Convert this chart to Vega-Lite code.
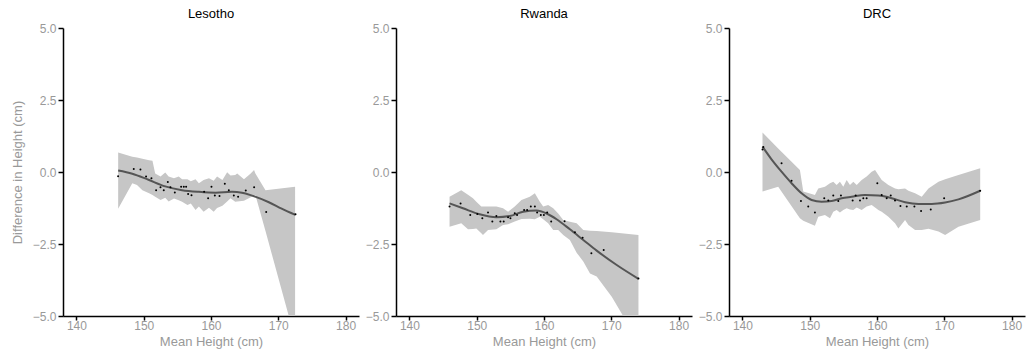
{
  "$schema": "https://vega.github.io/schema/vega-lite/v6.json",
  "padding": {"left": 11, "top": 8, "right": 5, "bottom": 3},
  "bounds": "flush",
  "spacing": 37,
  "config": {
    "view": {"stroke": null},
    "font": "Liberation Sans",
    "axis": {"domainColor": "black", "domainWidth": 1.5, "tickColor": "black", "tickWidth": 1.5, "tickSize": 5, "labelColor": "#999999", "labelFontSize": 12, "titleColor": "#999999", "titleFontSize": 13, "titleFontWeight": "normal", "grid": false, "labelPadding": 2},
    "axisX": {"tickSize": 4, "labelPadding": 0},
    "axisY": {"titlePadding": 8},
    "title": {"fontSize": 13, "fontWeight": "normal", "color": "black", "anchor": "middle", "offset": 1}
  },
  "datasets": {
    "band": [
      {"country": "Lesotho", "x": 146.2, "hi": 0.68, "lo": -1.28},
      {"country": "Lesotho", "x": 148.3, "hi": 0.53, "lo": -0.39},
      {"country": "Lesotho", "x": 149.0, "hi": 0.50, "lo": -0.45},
      {"country": "Lesotho", "x": 149.8, "hi": 0.46, "lo": -0.63},
      {"country": "Lesotho", "x": 150.8, "hi": 0.41, "lo": -0.74},
      {"country": "Lesotho", "x": 151.3, "hi": 0.39, "lo": -0.80},
      {"country": "Lesotho", "x": 151.7, "hi": -0.05, "lo": -0.86},
      {"country": "Lesotho", "x": 152.5, "hi": -0.16, "lo": -0.97},
      {"country": "Lesotho", "x": 153.2, "hi": -0.02, "lo": -0.89},
      {"country": "Lesotho", "x": 153.7, "hi": -0.16, "lo": -1.02},
      {"country": "Lesotho", "x": 154.5, "hi": -0.22, "lo": -0.92},
      {"country": "Lesotho", "x": 155.2, "hi": -0.16, "lo": -0.98},
      {"country": "Lesotho", "x": 155.7, "hi": -0.25, "lo": -1.03},
      {"country": "Lesotho", "x": 156.5, "hi": -0.25, "lo": -1.15},
      {"country": "Lesotho", "x": 157.0, "hi": -0.32, "lo": -1.09},
      {"country": "Lesotho", "x": 157.7, "hi": -0.25, "lo": -1.32},
      {"country": "Lesotho", "x": 158.2, "hi": -0.39, "lo": -1.20},
      {"country": "Lesotho", "x": 158.9, "hi": -0.28, "lo": -1.38},
      {"country": "Lesotho", "x": 159.7, "hi": -0.22, "lo": -1.24},
      {"country": "Lesotho", "x": 160.4, "hi": -0.30, "lo": -1.38},
      {"country": "Lesotho", "x": 160.9, "hi": -0.16, "lo": -1.25},
      {"country": "Lesotho", "x": 161.7, "hi": -0.28, "lo": -1.17},
      {"country": "Lesotho", "x": 162.4, "hi": -0.01, "lo": -1.02},
      {"country": "Lesotho", "x": 162.9, "hi": -0.12, "lo": -0.91},
      {"country": "Lesotho", "x": 163.6, "hi": -0.10, "lo": -1.03},
      {"country": "Lesotho", "x": 163.9, "hi": -0.05, "lo": -1.02},
      {"country": "Lesotho", "x": 164.9, "hi": -0.25, "lo": -1.00},
      {"country": "Lesotho", "x": 165.9, "hi": -0.05, "lo": -0.88},
      {"country": "Lesotho", "x": 166.4, "hi": 0.07, "lo": -0.82},
      {"country": "Lesotho", "x": 166.6, "hi": -0.05, "lo": -0.80},
      {"country": "Lesotho", "x": 168.1, "hi": -0.63, "lo": -2.05},
      {"country": "Lesotho", "x": 172.5, "hi": -0.51, "lo": -5.8},
      {"country": "Rwanda", "x": 145.96, "hi": -0.86, "lo": -1.90},
      {"country": "Rwanda", "x": 147.7, "hi": -0.63, "lo": -1.78},
      {"country": "Rwanda", "x": 148.7, "hi": -0.79, "lo": -1.99},
      {"country": "Rwanda", "x": 149.44, "hi": -0.91, "lo": -1.98},
      {"country": "Rwanda", "x": 149.94, "hi": -1.03, "lo": -1.96},
      {"country": "Rwanda", "x": 150.68, "hi": -1.20, "lo": -2.13},
      {"country": "Rwanda", "x": 150.93, "hi": -1.20, "lo": -2.19},
      {"country": "Rwanda", "x": 151.68, "hi": -1.20, "lo": -2.01},
      {"country": "Rwanda", "x": 152.92, "hi": -1.20, "lo": -1.99},
      {"country": "Rwanda", "x": 153.91, "hi": -1.26, "lo": -1.84},
      {"country": "Rwanda", "x": 154.66, "hi": -1.38, "lo": -1.81},
      {"country": "Rwanda", "x": 155.65, "hi": -1.20, "lo": -1.72},
      {"country": "Rwanda", "x": 156.65, "hi": -0.97, "lo": -1.63},
      {"country": "Rwanda", "x": 157.89, "hi": -0.86, "lo": -1.62},
      {"country": "Rwanda", "x": 158.64, "hi": -0.74, "lo": -1.64},
      {"country": "Rwanda", "x": 159.38, "hi": -1.03, "lo": -1.55},
      {"country": "Rwanda", "x": 159.88, "hi": -1.20, "lo": -1.64},
      {"country": "Rwanda", "x": 160.62, "hi": -1.15, "lo": -1.78},
      {"country": "Rwanda", "x": 161.37, "hi": -1.26, "lo": -2.01},
      {"country": "Rwanda", "x": 162.11, "hi": -1.44, "lo": -2.01},
      {"country": "Rwanda", "x": 162.86, "hi": -1.67, "lo": -2.19},
      {"country": "Rwanda", "x": 163.85, "hi": -1.73, "lo": -2.36},
      {"country": "Rwanda", "x": 164.85, "hi": -1.78, "lo": -2.80},
      {"country": "Rwanda", "x": 165.84, "hi": -2.01, "lo": -3.11},
      {"country": "Rwanda", "x": 166.84, "hi": -2.04, "lo": -3.52},
      {"country": "Rwanda", "x": 167.83, "hi": -2.05, "lo": -3.63},
      {"country": "Rwanda", "x": 170.07, "hi": -2.09, "lo": -4.33},
      {"country": "Rwanda", "x": 174.04, "hi": -2.19, "lo": -5.9},
      {"country": "DRC", "x": 142.98, "hi": 1.37, "lo": -0.68},
      {"country": "DRC", "x": 145.31, "hi": 0.82, "lo": -0.51},
      {"country": "DRC", "x": 148.54, "hi": 0.07, "lo": -1.61},
      {"country": "DRC", "x": 149.04, "hi": -0.68, "lo": -1.69},
      {"country": "DRC", "x": 150.77, "hi": -0.80, "lo": -1.87},
      {"country": "DRC", "x": 151.27, "hi": -0.57, "lo": -1.55},
      {"country": "DRC", "x": 152.26, "hi": -0.51, "lo": -1.49},
      {"country": "DRC", "x": 153.01, "hi": -0.39, "lo": -1.61},
      {"country": "DRC", "x": 153.5, "hi": -0.34, "lo": -1.38},
      {"country": "DRC", "x": 154.0, "hi": -0.45, "lo": -1.32},
      {"country": "DRC", "x": 154.49, "hi": -0.34, "lo": -1.41},
      {"country": "DRC", "x": 154.99, "hi": -0.51, "lo": -1.32},
      {"country": "DRC", "x": 155.49, "hi": -0.28, "lo": -1.26},
      {"country": "DRC", "x": 155.98, "hi": -0.45, "lo": -1.30},
      {"country": "DRC", "x": 156.48, "hi": -0.34, "lo": -1.32},
      {"country": "DRC", "x": 156.98, "hi": -0.45, "lo": -1.23},
      {"country": "DRC", "x": 157.72, "hi": -0.28, "lo": -1.32},
      {"country": "DRC", "x": 158.46, "hi": -0.16, "lo": -1.20},
      {"country": "DRC", "x": 159.21, "hi": 0.01, "lo": -1.15},
      {"country": "DRC", "x": 159.71, "hi": 0.07, "lo": -1.23},
      {"country": "DRC", "x": 160.2, "hi": -0.10, "lo": -1.32},
      {"country": "DRC", "x": 160.7, "hi": -0.28, "lo": -1.38},
      {"country": "DRC", "x": 161.69, "hi": -0.45, "lo": -1.55},
      {"country": "DRC", "x": 162.68, "hi": -0.57, "lo": -1.78},
      {"country": "DRC", "x": 163.18, "hi": -0.60, "lo": -1.96},
      {"country": "DRC", "x": 164.17, "hi": -0.57, "lo": -1.67},
      {"country": "DRC", "x": 164.67, "hi": -0.65, "lo": -1.84},
      {"country": "DRC", "x": 165.66, "hi": -0.74, "lo": -2.01},
      {"country": "DRC", "x": 166.65, "hi": -0.86, "lo": -2.01},
      {"country": "DRC", "x": 167.65, "hi": -0.57, "lo": -1.97},
      {"country": "DRC", "x": 169.14, "hi": -0.34, "lo": -2.07},
      {"country": "DRC", "x": 170.13, "hi": -0.25, "lo": -2.19},
      {"country": "DRC", "x": 172.11, "hi": -0.10, "lo": -1.90},
      {"country": "DRC", "x": 175.34, "hi": 0.13, "lo": -1.67}
    ],
    "fit": [
      {"country": "Lesotho", "x": 146.2, "y": 0.05},
      {"country": "Lesotho", "x": 148.3, "y": -0.06},
      {"country": "Lesotho", "x": 150.7, "y": -0.27},
      {"country": "Lesotho", "x": 153.2, "y": -0.50},
      {"country": "Lesotho", "x": 155.7, "y": -0.63},
      {"country": "Lesotho", "x": 158.2, "y": -0.69},
      {"country": "Lesotho", "x": 160.7, "y": -0.72},
      {"country": "Lesotho", "x": 163.1, "y": -0.69},
      {"country": "Lesotho", "x": 164.6, "y": -0.72},
      {"country": "Lesotho", "x": 166.1, "y": -0.82},
      {"country": "Lesotho", "x": 168.6, "y": -1.05},
      {"country": "Lesotho", "x": 170.5, "y": -1.27},
      {"country": "Lesotho", "x": 172.56, "y": -1.49},
      {"country": "Rwanda", "x": 145.96, "y": -1.09},
      {"country": "Rwanda", "x": 147.95, "y": -1.26},
      {"country": "Rwanda", "x": 150.44, "y": -1.47},
      {"country": "Rwanda", "x": 152.92, "y": -1.57},
      {"country": "Rwanda", "x": 154.91, "y": -1.53},
      {"country": "Rwanda", "x": 156.9, "y": -1.38},
      {"country": "Rwanda", "x": 158.88, "y": -1.34},
      {"country": "Rwanda", "x": 160.38, "y": -1.44},
      {"country": "Rwanda", "x": 161.87, "y": -1.64},
      {"country": "Rwanda", "x": 163.85, "y": -1.99},
      {"country": "Rwanda", "x": 165.84, "y": -2.36},
      {"country": "Rwanda", "x": 167.83, "y": -2.73},
      {"country": "Rwanda", "x": 170.81, "y": -3.23},
      {"country": "Rwanda", "x": 174.04, "y": -3.71},
      {"country": "DRC", "x": 142.98, "y": 0.88},
      {"country": "DRC", "x": 144.32, "y": 0.44},
      {"country": "DRC", "x": 145.81, "y": 0.01},
      {"country": "DRC", "x": 147.3, "y": -0.39},
      {"country": "DRC", "x": 148.79, "y": -0.74},
      {"country": "DRC", "x": 150.28, "y": -0.97},
      {"country": "DRC", "x": 151.77, "y": -1.03},
      {"country": "DRC", "x": 153.25, "y": -1.01},
      {"country": "DRC", "x": 154.74, "y": -0.91},
      {"country": "DRC", "x": 156.23, "y": -0.86},
      {"country": "DRC", "x": 158.22, "y": -0.80},
      {"country": "DRC", "x": 160.2, "y": -0.82},
      {"country": "DRC", "x": 162.19, "y": -0.91},
      {"country": "DRC", "x": 164.17, "y": -1.05},
      {"country": "DRC", "x": 166.16, "y": -1.11},
      {"country": "DRC", "x": 168.14, "y": -1.11},
      {"country": "DRC", "x": 170.13, "y": -1.06},
      {"country": "DRC", "x": 172.11, "y": -0.95},
      {"country": "DRC", "x": 175.34, "y": -0.65}
    ],
    "pts": [
      {"country": "Lesotho", "x": 146.19, "y": -0.15},
      {"country": "Lesotho", "x": 148.52, "y": 0.10},
      {"country": "Lesotho", "x": 149.51, "y": 0.09},
      {"country": "Lesotho", "x": 150.35, "y": -0.16},
      {"country": "Lesotho", "x": 151.15, "y": -0.22},
      {"country": "Lesotho", "x": 151.84, "y": -0.63},
      {"country": "Lesotho", "x": 152.49, "y": -0.53},
      {"country": "Lesotho", "x": 152.98, "y": -0.63},
      {"country": "Lesotho", "x": 153.58, "y": -0.35},
      {"country": "Lesotho", "x": 153.97, "y": -0.53},
      {"country": "Lesotho", "x": 154.62, "y": -0.71},
      {"country": "Lesotho", "x": 155.56, "y": -0.51},
      {"country": "Lesotho", "x": 155.96, "y": -0.51},
      {"country": "Lesotho", "x": 156.3, "y": -0.51},
      {"country": "Lesotho", "x": 156.6, "y": -0.76},
      {"country": "Lesotho", "x": 157.1, "y": -0.81},
      {"country": "Lesotho", "x": 158.98, "y": -0.69},
      {"country": "Lesotho", "x": 159.57, "y": -0.91},
      {"country": "Lesotho", "x": 160.07, "y": -0.51},
      {"country": "Lesotho", "x": 160.57, "y": -0.82},
      {"country": "Lesotho", "x": 161.26, "y": -0.83},
      {"country": "Lesotho", "x": 162.05, "y": -0.41},
      {"country": "Lesotho", "x": 162.65, "y": -0.63},
      {"country": "Lesotho", "x": 163.39, "y": -0.82},
      {"country": "Lesotho", "x": 164.03, "y": -0.86},
      {"country": "Lesotho", "x": 165.17, "y": -0.64},
      {"country": "Lesotho", "x": 166.41, "y": -0.53},
      {"country": "Lesotho", "x": 168.2, "y": -1.39},
      {"country": "Lesotho", "x": 172.56, "y": -1.47},
      {"country": "Rwanda", "x": 145.96, "y": -1.20},
      {"country": "Rwanda", "x": 147.6, "y": -1.09},
      {"country": "Rwanda", "x": 149.04, "y": -1.49},
      {"country": "Rwanda", "x": 150.09, "y": -1.46},
      {"country": "Rwanda", "x": 150.83, "y": -1.61},
      {"country": "Rwanda", "x": 151.68, "y": -1.41},
      {"country": "Rwanda", "x": 152.32, "y": -1.72},
      {"country": "Rwanda", "x": 152.92, "y": -1.53},
      {"country": "Rwanda", "x": 153.52, "y": -1.72},
      {"country": "Rwanda", "x": 154.01, "y": -1.72},
      {"country": "Rwanda", "x": 154.66, "y": -1.57},
      {"country": "Rwanda", "x": 155.01, "y": -1.61},
      {"country": "Rwanda", "x": 155.65, "y": -1.43},
      {"country": "Rwanda", "x": 156.0, "y": -1.49},
      {"country": "Rwanda", "x": 157.05, "y": -1.32},
      {"country": "Rwanda", "x": 157.49, "y": -1.32},
      {"country": "Rwanda", "x": 158.04, "y": -1.20},
      {"country": "Rwanda", "x": 158.64, "y": -1.20},
      {"country": "Rwanda", "x": 158.98, "y": -1.41},
      {"country": "Rwanda", "x": 159.53, "y": -1.49},
      {"country": "Rwanda", "x": 159.98, "y": -1.49},
      {"country": "Rwanda", "x": 160.47, "y": -1.41},
      {"country": "Rwanda", "x": 161.07, "y": -1.72},
      {"country": "Rwanda", "x": 163.06, "y": -1.71},
      {"country": "Rwanda", "x": 164.6, "y": -2.09},
      {"country": "Rwanda", "x": 165.74, "y": -2.28},
      {"country": "Rwanda", "x": 167.04, "y": -2.82},
      {"country": "Rwanda", "x": 168.87, "y": -2.71},
      {"country": "Rwanda", "x": 174.04, "y": -3.70},
      {"country": "DRC", "x": 142.98, "y": 0.78},
      {"country": "DRC", "x": 143.1, "y": 0.87},
      {"country": "DRC", "x": 145.81, "y": 0.30},
      {"country": "DRC", "x": 147.3, "y": -0.30},
      {"country": "DRC", "x": 148.69, "y": -1.01},
      {"country": "DRC", "x": 149.78, "y": -1.20},
      {"country": "DRC", "x": 150.77, "y": -1.41},
      {"country": "DRC", "x": 152.16, "y": -0.91},
      {"country": "DRC", "x": 152.76, "y": -0.99},
      {"country": "DRC", "x": 153.5, "y": -0.82},
      {"country": "DRC", "x": 154.25, "y": -1.01},
      {"country": "DRC", "x": 154.64, "y": -0.82},
      {"country": "DRC", "x": 156.38, "y": -0.99},
      {"country": "DRC", "x": 156.83, "y": -0.82},
      {"country": "DRC", "x": 157.47, "y": -0.99},
      {"country": "DRC", "x": 157.97, "y": -0.91},
      {"country": "DRC", "x": 158.46, "y": -0.91},
      {"country": "DRC", "x": 160.05, "y": -0.39},
      {"country": "DRC", "x": 160.7, "y": -0.80},
      {"country": "DRC", "x": 161.44, "y": -0.91},
      {"country": "DRC", "x": 162.04, "y": -0.82},
      {"country": "DRC", "x": 162.68, "y": -0.99},
      {"country": "DRC", "x": 163.48, "y": -1.18},
      {"country": "DRC", "x": 164.42, "y": -1.20},
      {"country": "DRC", "x": 165.56, "y": -1.20},
      {"country": "DRC", "x": 166.55, "y": -1.35},
      {"country": "DRC", "x": 167.99, "y": -1.30},
      {"country": "DRC", "x": 169.98, "y": -0.91},
      {"country": "DRC", "x": 175.34, "y": -0.65}
    ]
  },
  "hconcat": [
    {
      "width": 296, "height": 288,
      "title": "Lesotho",
      "layer": [
        {"data": {"name": "band"}, "transform": [{"filter": "datum.country === 'Lesotho'"}],
         "mark": {"type": "area", "color": "#c6c6c6", "clip": true},
         "encoding": {
           "x": {"field": "x", "type": "quantitative", "scale": {"domain": [138, 182], "nice": false}, "axis": {"values": [140, 150, 160, 170, 180], "title": "Mean Height (cm)"}},
           "y": {"field": "hi", "type": "quantitative", "scale": {"domain": [-5, 5], "nice": false}, "axis": {"values": [-5, -2.5, 0, 2.5, 5], "format": ".1f", "title": "Difference in Height (cm)"}},
           "y2": {"field": "lo"}}},
        {"mark": {"type": "rule", "color": "black", "strokeWidth": 1.5}, "encoding": {"y": {"datum": 0, "type": "quantitative"}}},
        {"data": {"name": "fit"}, "transform": [{"filter": "datum.country === 'Lesotho'"}],
         "mark": {"type": "line", "color": "#555555", "strokeWidth": 2, "interpolate": "monotone"},
         "encoding": {"x": {"field": "x", "type": "quantitative"}, "y": {"field": "y", "type": "quantitative"}}},
        {"data": {"name": "pts"}, "transform": [{"filter": "datum.country === 'Lesotho'"}],
         "mark": {"type": "circle", "color": "black", "size": 4, "opacity": 1},
         "encoding": {"x": {"field": "x", "type": "quantitative"}, "y": {"field": "y", "type": "quantitative"}}}
      ]
    },
    {
      "width": 296, "height": 288,
      "title": "Rwanda",
      "layer": [
        {"data": {"name": "band"}, "transform": [{"filter": "datum.country === 'Rwanda'"}],
         "mark": {"type": "area", "color": "#c6c6c6", "clip": true},
         "encoding": {
           "x": {"field": "x", "type": "quantitative", "scale": {"domain": [138, 182], "nice": false}, "axis": {"values": [140, 150, 160, 170, 180], "title": "Mean Height (cm)"}},
           "y": {"field": "hi", "type": "quantitative", "scale": {"domain": [-5, 5], "nice": false}, "axis": {"values": [-5, -2.5, 0, 2.5, 5], "format": ".1f", "title": null}},
           "y2": {"field": "lo"}}},
        {"mark": {"type": "rule", "color": "black", "strokeWidth": 1.5}, "encoding": {"y": {"datum": 0, "type": "quantitative"}}},
        {"data": {"name": "fit"}, "transform": [{"filter": "datum.country === 'Rwanda'"}],
         "mark": {"type": "line", "color": "#555555", "strokeWidth": 2, "interpolate": "monotone"},
         "encoding": {"x": {"field": "x", "type": "quantitative"}, "y": {"field": "y", "type": "quantitative"}}},
        {"data": {"name": "pts"}, "transform": [{"filter": "datum.country === 'Rwanda'"}],
         "mark": {"type": "circle", "color": "black", "size": 4, "opacity": 1},
         "encoding": {"x": {"field": "x", "type": "quantitative"}, "y": {"field": "y", "type": "quantitative"}}}
      ]
    },
    {
      "width": 296, "height": 288,
      "title": "DRC",
      "layer": [
        {"data": {"name": "band"}, "transform": [{"filter": "datum.country === 'DRC'"}],
         "mark": {"type": "area", "color": "#c6c6c6", "clip": true},
         "encoding": {
           "x": {"field": "x", "type": "quantitative", "scale": {"domain": [138, 182], "nice": false}, "axis": {"values": [140, 150, 160, 170, 180], "title": "Mean Height (cm)"}},
           "y": {"field": "hi", "type": "quantitative", "scale": {"domain": [-5, 5], "nice": false}, "axis": {"values": [-5, -2.5, 0, 2.5, 5], "format": ".1f", "title": null}},
           "y2": {"field": "lo"}}},
        {"mark": {"type": "rule", "color": "black", "strokeWidth": 1.5}, "encoding": {"y": {"datum": 0, "type": "quantitative"}}},
        {"data": {"name": "fit"}, "transform": [{"filter": "datum.country === 'DRC'"}],
         "mark": {"type": "line", "color": "#555555", "strokeWidth": 2, "interpolate": "monotone"},
         "encoding": {"x": {"field": "x", "type": "quantitative"}, "y": {"field": "y", "type": "quantitative"}}},
        {"data": {"name": "pts"}, "transform": [{"filter": "datum.country === 'DRC'"}],
         "mark": {"type": "circle", "color": "black", "size": 4, "opacity": 1},
         "encoding": {"x": {"field": "x", "type": "quantitative"}, "y": {"field": "y", "type": "quantitative"}}}
      ]
    }
  ]
}
